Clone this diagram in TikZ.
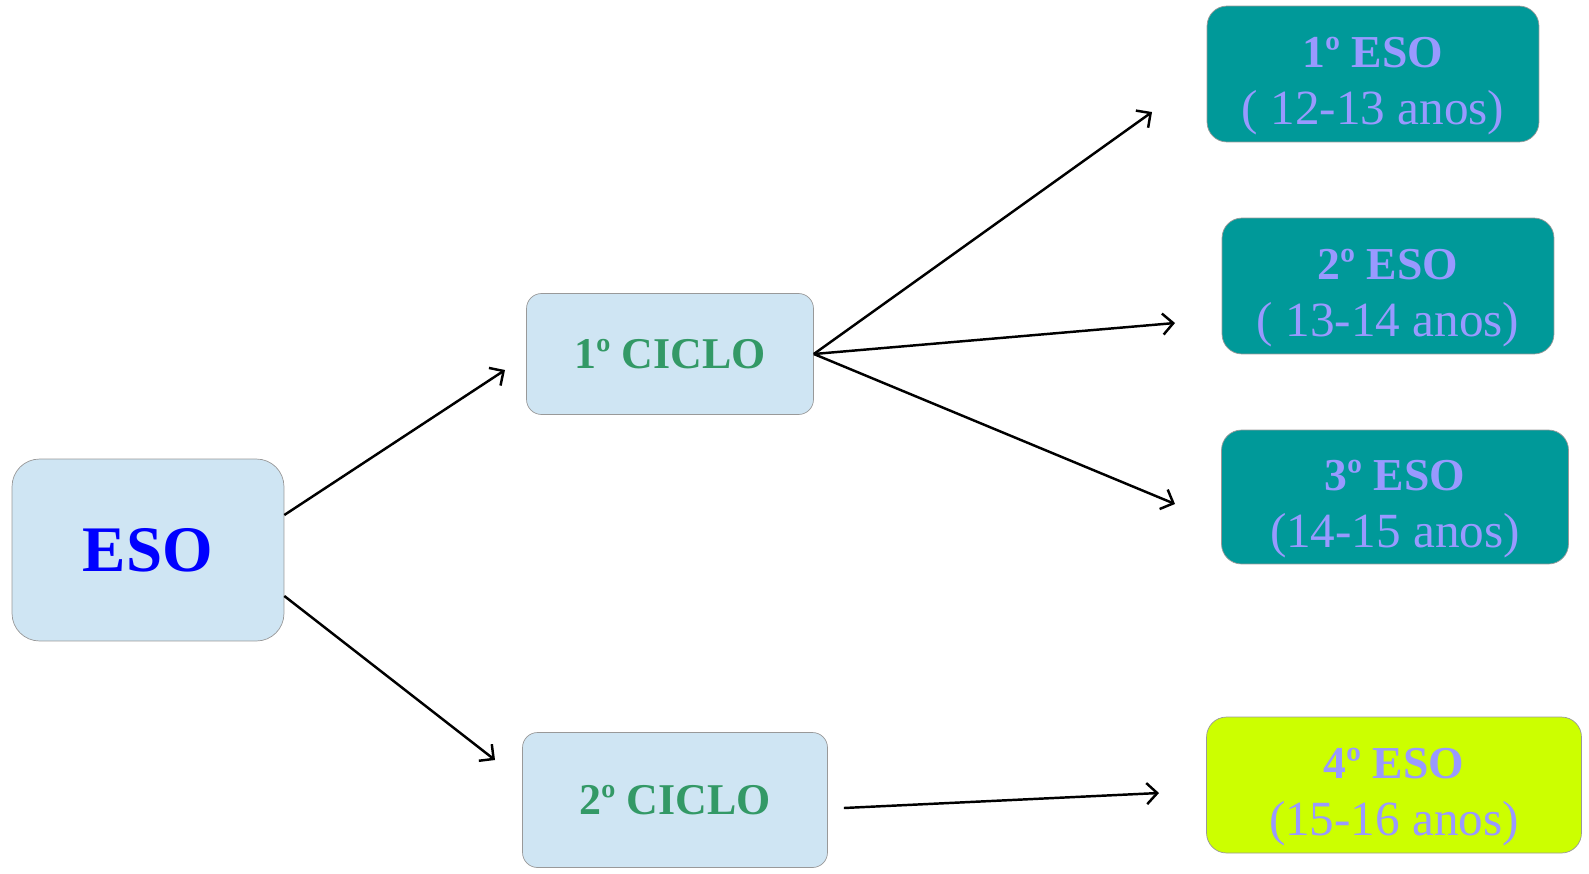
\documentclass[tikz,border=0pt]{standalone}
\usepackage{fontspec}
\setmainfont{Liberation Serif}
\usetikzlibrary{arrows.meta}
\definecolor{ciclo_fill}{RGB}{207,229,243}
\definecolor{eso_blue}{RGB}{0,0,255}
\definecolor{ciclo_green}{RGB}{51,153,102}
\definecolor{ano_teal}{RGB}{0,153,153}
\definecolor{ano_lime}{RGB}{204,255,0}
\definecolor{ano_text}{RGB}{153,153,255}
\newcommand{\yeartitle}[1]{\rule{0pt}{31pt}{\fontsize{26}{32}\selectfont\bfseries #1}}

\begin{document}
\begin{tikzpicture}[x=0.02cm,y=-0.02cm,
	stage_node/.style={draw=gray!80,fill=ciclo_fill,rounded corners=0.3cm,inner sep=0pt,text=ciclo_green,font=\fontsize{25}{25}\selectfont\bfseries},
	year_node/.style={draw=gray!80,fill=ano_teal,rounded corners=0.4cm,inner sep=0pt,minimum height=2.72cm,align=center,text=ano_text,font=\fontsize{28}{32}\selectfont},
	link/.style={-{Straight Barb[length=6pt,width=12pt]},line width=1.4pt}]
			
			\useasboundingbox (0,0) rectangle (1589,873);
			
			\node[stage_node,rounded corners=0.55cm,minimum width=5.44cm,minimum height=3.64cm,text=eso_blue,font=\fontsize{37}{37}\selectfont\bfseries] (eso) at (148,550) {ESO};
			\node[stage_node,minimum width=5.74cm,minimum height=2.42cm] (c1) at (670,354) {1º CICLO};
			\node[stage_node,minimum width=6.1cm,minimum height=2.7cm] (c2) at (675,800) {2º CICLO};
			
			\node[year_node,minimum width=6.64cm] (a1) at (1373,74) {\yeartitle{1º ESO}\\( 12-13 anos)};
			\node[year_node,minimum width=6.64cm] (a2) at (1388,286) {\yeartitle{2º ESO}\\( 13-14 anos)};
			\node[year_node,minimum width=6.94cm,minimum height=2.68cm] (a3) at (1395,497) {\yeartitle{3º ESO}\\(14-15 anos)};
			\node[year_node,minimum width=7.5cm,fill=ano_lime] (a4) at (1394,785) {\yeartitle{4º ESO}\\(15-16 anos)};
			
			% arrow tips stop short of the boxes
			\coordinate (t1) at (505,370);
			\coordinate (t2) at (495,760);
			\coordinate (t3) at (1152,112);
			\coordinate (t4) at (1175,323);
			\coordinate (t5) at (1175,504);
			\coordinate (t6) at (1159,793);
			
			\draw[link] ([yshift=0.7cm]eso.east) -- (t1);
			\draw[link] ([yshift=-0.92cm]eso.east) -- (t2);
			\draw[link] (c1.east) -- (t3);
			\draw[link] (c1.east) -- (t4);
			\draw[link] (c1.east) -- (t5);
			\draw[link] ([xshift=0.32cm,yshift=-0.16cm]c2.east) -- (t6);
		\end{tikzpicture}
\end{document}
